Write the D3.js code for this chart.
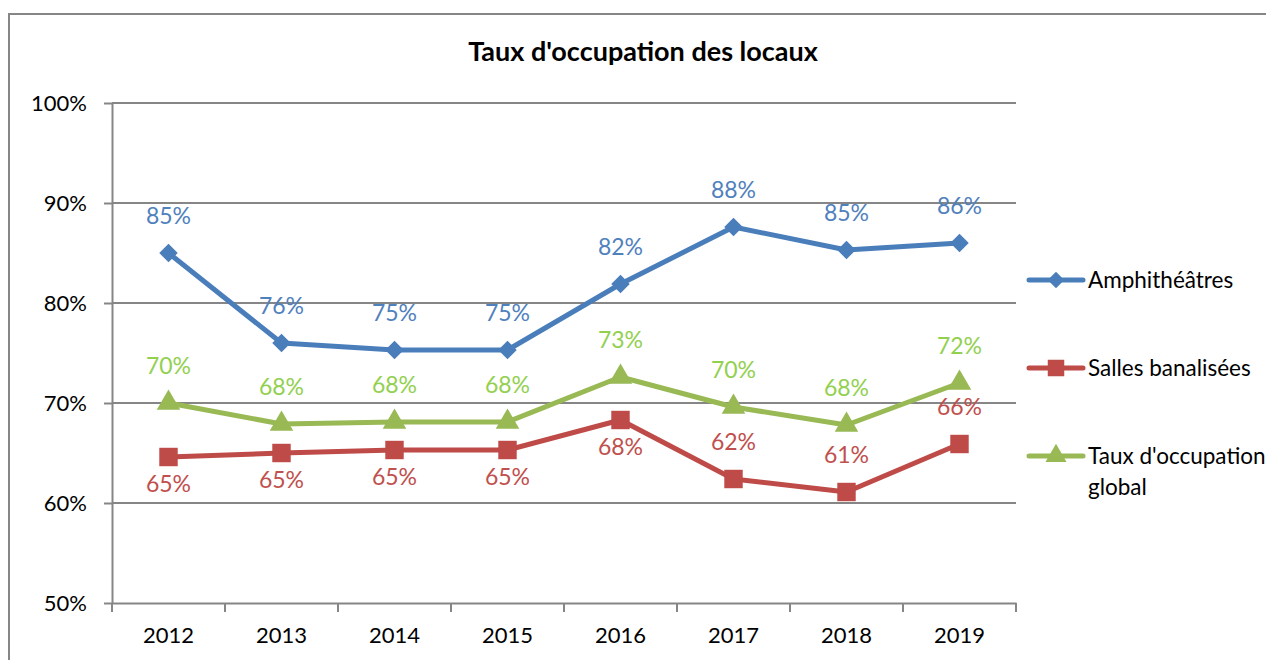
<!DOCTYPE html>
<html>
<head>
<meta charset="utf-8">
<script src="https://cdn.jsdelivr.net/npm/d3@7"></script>
<style>
  body { margin: 0; background: #fff; }
  svg { display: block; font-family: Lato, Carlito, Calibri, sans-serif; }
</style>
</head>
<body>
<svg id="plot" width="1266" height="660"></svg>
<script>
const years = ['2012', '2013', '2014', '2015', '2016', '2017', '2018', '2019'];
const amphi = [0.850, 0.760, 0.753, 0.753, 0.819, 0.876, 0.853, 0.860];
const salles = [0.646, 0.650, 0.653, 0.653, 0.683, 0.624, 0.611, 0.659];
const global = [0.700, 0.679, 0.681, 0.681, 0.726, 0.696, 0.678, 0.720];
const yTicks = [0.5, 0.6, 0.7, 0.8, 0.9, 1.0];
// where each red label sits relative to its point
const sallesLabelSide = ['below', 'below', 'below', 'below', 'below', 'above', 'above', 'above'];

const series = [
  { name: 'Amphithéâtres', values: amphi, color: '#4a7ebb', labelColor: '#4f81bd', marker: d3.symbolSquare, size: 170, rotate: 45, side: () => 'above' },
  { name: 'Salles banalisées', values: salles, color: '#be4b48', labelColor: '#c0504d', marker: d3.symbolSquare, size: 340, rotate: 0, side: i => sallesLabelSide[i] },
  { name: "Taux d'occupation global", values: global, color: '#98b954', labelColor: '#92d050', marker: d3.symbolTriangle, size: 240, rotate: 0, side: () => 'above' }
];

const plot = d3.select('#plot');
const grey = '#868686';

// outer frame (runs past the window on the right and bottom)
plot.append('rect')
  .attr('x', 9).attr('y', 14)
  .attr('width', 1300).attr('height', 700)
  .attr('fill', 'none')
  .attr('stroke', grey)
  .attr('stroke-width', 2);

const xScale = d3.scaleBand()
  .domain(years)
  .range([112, 1016]);

const yScale = d3.scaleLinear()
  .domain([0.5, 1.0])
  .range([603, 103]);

// gridlines
plot.append('g')
  .selectAll('line')
  .data(yTicks.slice(1))
  .join('line')
  .attr('x1', 112).attr('x2', 1016)
  .attr('y1', d => yScale(d)).attr('y2', d => yScale(d))
  .attr('stroke', grey)
  .attr('stroke-width', 2);

const yAxis = d3.axisLeft(yScale)
  .tickValues(yTicks)
  .tickFormat(d3.format('.0%'))
  .tickSizeInner(8)
  .tickSizeOuter(0)
  .tickPadding(17);

const xAxis = d3.axisBottom(xScale)
  .tickSizeInner(0)
  .tickSizeOuter(0)
  .tickPadding(24);

const gx = plot.append('g')
  .attr('transform', 'translate(0, 603)')
  .call(xAxis);

// x ticks sit at the category boundaries
gx.selectAll('.bound')
  .data(years.map(y => xScale(y)).concat([xScale.range()[1]]))
  .join('line')
  .attr('x1', d => d).attr('x2', d => d)
  .attr('y1', 0).attr('y2', 9)
  .attr('stroke', grey)
  .attr('stroke-width', 2);

const gy = plot.append('g')
  .attr('transform', 'translate(112, 0)')
  .call(yAxis);

[gx, gy].forEach(g => {
  g.select('.domain').attr('stroke', grey).attr('stroke-width', 2);
  g.selectAll('.tick line').attr('stroke', grey).attr('stroke-width', 2);
  g.selectAll('.tick text')
    .attr('fill', '#000')
    .style('font-size', '22px')
    .style('font-family', 'Lato, Carlito, Calibri, sans-serif');
});

// title
plot.append('text')
  .attr('x', 643).attr('y', 61)
  .attr('text-anchor', 'middle')
  .style('font-weight', 'bold')
  .style('font-size', '27px')
  .text("Taux d'occupation des locaux");

const line = d3.line()
  .x((d, i) => xScale(years[i]) + xScale.bandwidth() / 2)
  .y(d => yScale(d));

const pct = d3.format('.0%');

series.forEach(s => {
  const g = plot.append('g');
  g.append('path')
    .attr('d', line(s.values))
    .attr('fill', 'none')
    .attr('stroke', s.color)
    .attr('stroke-width', 5)
    .attr('stroke-linejoin', 'round');

  g.selectAll('.marker')
    .data(s.values)
    .join('path')
    .attr('d', d3.symbol(s.marker, s.size))
    .attr('transform', (d, i) => `translate(${xScale(years[i]) + xScale.bandwidth() / 2}, ${yScale(d)}) rotate(${s.rotate})`)
    .attr('fill', s.color);

  g.selectAll('.lbl')
    .data(s.values)
    .join('text')
    .attr('x', (d, i) => xScale(years[i]) + xScale.bandwidth() / 2)
    .attr('y', (d, i) => yScale(d) + (s.side(i) === 'above' ? -29 : 35))
    .attr('text-anchor', 'middle')
    .attr('fill', s.labelColor)
    .style('font-size', '23px')
    .text(d => pct(d));
});

// legend
const legendY = [280, 368, 456];
series.forEach((s, i) => {
  const g = plot.append('g').attr('transform', `translate(1029, ${legendY[i]})`);
  g.append('line')
    .attr('x1', 0).attr('x2', 54)
    .attr('stroke', s.color)
    .attr('stroke-width', 5)
    .attr('stroke-linecap', 'round');
  g.append('path')
    .attr('d', d3.symbol(s.marker, s.size * 0.8))
    .attr('transform', `translate(27, 0) rotate(${s.rotate})`)
    .attr('fill', s.color);
  const t = g.append('text')
    .attr('x', 59).attr('y', 8)
    .style('font-size', '22.5px')
    .attr('fill', '#000');
  if (s.name === "Taux d'occupation global") {
    t.append('tspan').attr('x', 59).text("Taux d'occupation");
    t.append('tspan').attr('x', 59).attr('dy', 31).text('global');
  } else {
    t.text(s.name);
  }
});
</script>
</body>
</html>
